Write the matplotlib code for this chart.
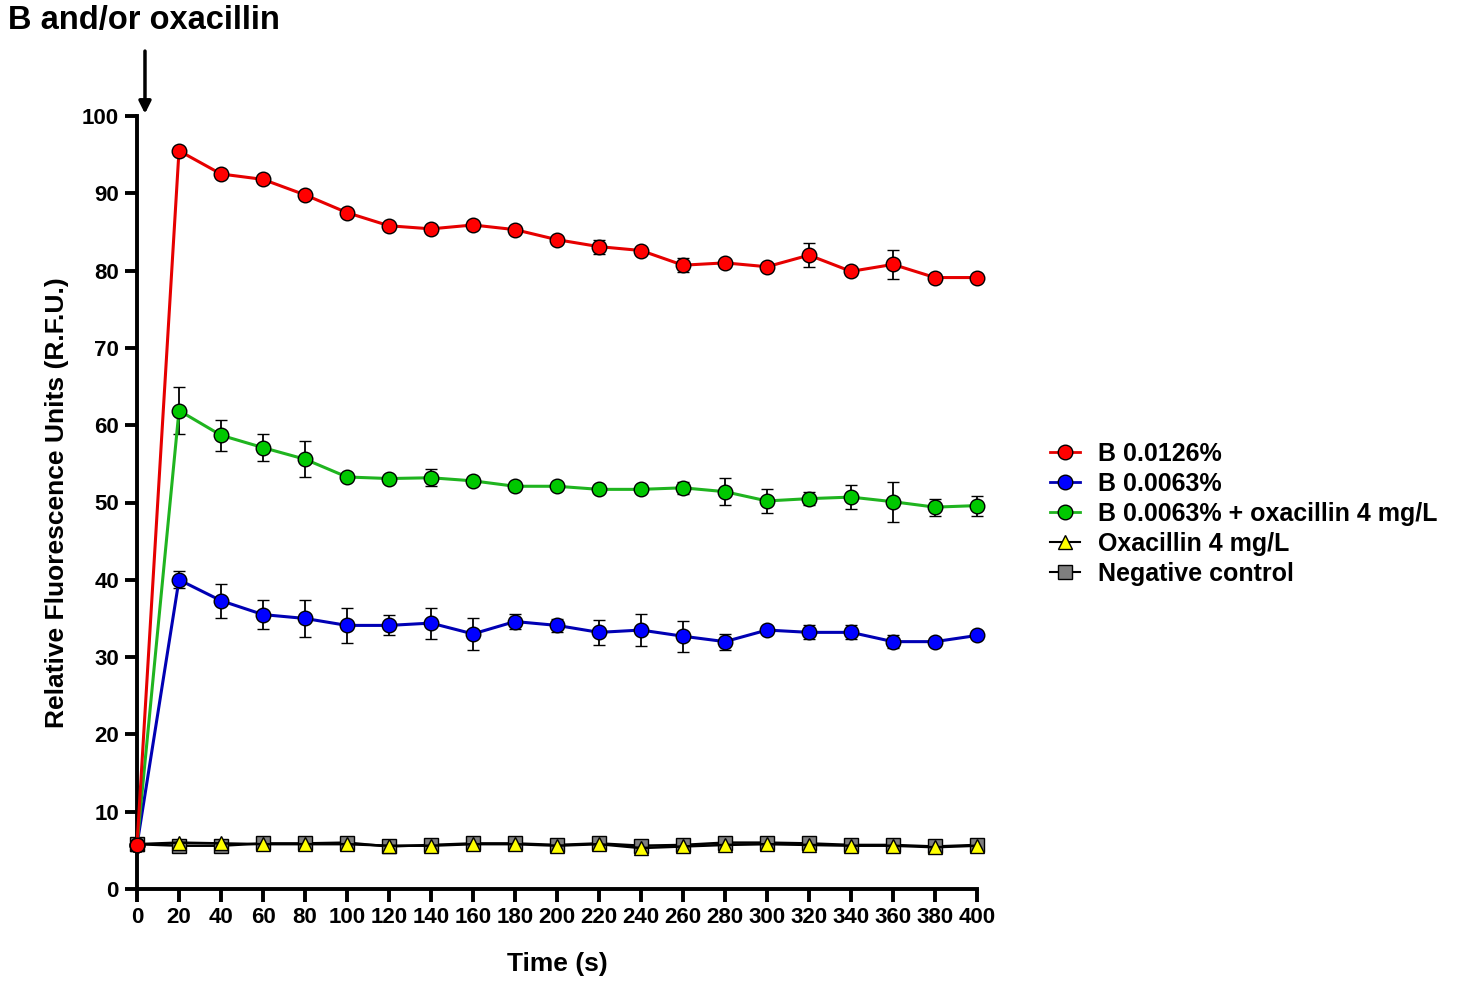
import numpy as np
import matplotlib
matplotlib.use("Agg")
import matplotlib.pyplot as plt
from matplotlib.lines import Line2D

plt.rcParams['font.family'] = ['Liberation Sans', 'DejaVu Sans']
plt.rcParams['font.weight'] = 'bold'

### Data
time = [0, 20, 40, 60, 80, 100, 120, 140, 160, 180, 200,
        220, 240, 260, 280, 300, 320, 340, 360, 380, 400]

b0126 = [5.7, 95.5, 92.5, 91.8, 89.8, 87.5, 85.8, 85.4, 85.9, 85.3, 84.0,
         83.1, 82.6, 80.7, 81.0, 80.5, 82.0, 79.9, 80.8, 79.1, 79.1]
b0126_err = [0, 0.3, 0.3, 0.3, 0.3, 0.3, 0.3, 0.3, 0.3, 0.3, 0.3,
             0.9, 0.3, 0.9, 0.3, 0.3, 1.55, 0.3, 1.9, 0.3, 0.3]

b0063 = [5.7, 40.0, 37.3, 35.5, 35.0, 34.1, 34.1, 34.4, 33.0, 34.6, 34.1,
         33.2, 33.5, 32.7, 32.0, 33.5, 33.2, 33.2, 32.0, 32.0, 32.8]
b0063_err = [0, 1.1, 2.2, 1.9, 2.4, 2.3, 1.3, 2.0, 2.1, 0.95, 0.85,
             1.6, 2.1, 2.0, 1.05, 0.3, 0.9, 0.9, 0.8, 0.3, 0.3]

b0063_oxa = [5.7, 61.9, 58.7, 57.1, 55.6, 53.3, 53.1, 53.2, 52.8, 52.1, 52.1,
             51.7, 51.7, 51.9, 51.4, 50.2, 50.5, 50.7, 50.1, 49.4, 49.6]
b0063_oxa_err = [0, 3.0, 2.0, 1.7, 2.3, 0.3, 0.3, 1.1, 0.3, 0.3, 0.3,
                 0.3, 0.3, 0.8, 1.75, 1.5, 0.8, 1.5, 2.6, 1.1, 1.3]

oxa = [5.8, 6.0, 5.9, 5.8, 5.8, 5.8, 5.6, 5.6, 5.8, 5.8, 5.6,
       5.8, 5.3, 5.5, 5.7, 5.8, 5.7, 5.6, 5.6, 5.4, 5.6]
neg = [5.8, 5.6, 5.6, 5.9, 5.9, 6.0, 5.5, 5.7, 5.9, 5.9, 5.7,
       5.9, 5.6, 5.7, 6.0, 6.0, 5.9, 5.7, 5.7, 5.5, 5.7]

labels = ['B 0.0126%', 'B 0.0063%', 'B 0.0063% + oxacillin 4 mg/L',
          'Oxacillin 4 mg/L', 'Negative control']

fig = plt.figure(figsize=(14.77, 9.81), dpi=100)
ax = fig.add_axes([137/1477, 1-889/981, (977-137)/1477, (889-116)/981])

ms = 10.5
common = dict(capsize=4, ecolor='black', elinewidth=1.3, capthick=1.3,
              markeredgecolor='black', markeredgewidth=1.0, clip_on=False)

# bottom curves first so the coloured ones sit on top
ax.plot(time, neg, color='black', lw=1.8, marker='s', ms=ms-1,
        mfc='#7f7f7f', mec='black', mew=1.0, clip_on=False, zorder=3)
ax.plot(time, oxa, color='black', lw=1.8, marker='^', ms=ms-1,
        mfc='#ffff00', mec='black', mew=1.0, clip_on=False, zorder=4)
ax.errorbar(time, b0063, yerr=b0063_err, color='#0000b4', lw=2.2, marker='o',
            ms=ms, mfc='#0000ff', zorder=5, **common)
ax.errorbar(time, b0063_oxa, yerr=b0063_oxa_err, color='#1fb41f', lw=2.2,
            marker='o', ms=ms, mfc='#00c800', zorder=6, **common)
ax.errorbar(time, b0126, yerr=b0126_err, color='#e60000', lw=2.2, marker='o',
            ms=ms, mfc='#ff0000', zorder=7, **common)

ax.set_xlim(0, 400)
ax.set_ylim(0, 100)
ax.set_xticks(np.arange(0, 401, 20))
ax.set_yticks(np.arange(0, 101, 10))
for s in ['top', 'right']:
    ax.spines[s].set_visible(False)
for s in ['left', 'bottom']:
    ax.spines[s].set_linewidth(2.8)
ax.tick_params(direction='out', length=9, width=2.8, labelsize=16, pad=4)
for lab in ax.get_xticklabels() + ax.get_yticklabels():
    lab.set_fontweight('bold')

ax.set_xlabel('Time (s)', fontsize=19, fontweight='bold', labelpad=17)
ax.set_ylabel('Relative Fluorescence Units (R.F.U.)', fontsize=19,
              fontweight='bold', labelpad=9)

# arrow marking the addition
ax.annotate('', xy=(3.8, 100.3), xytext=(3.8, 108.4),
            arrowprops=dict(arrowstyle='-|>', color='black', lw=2.5,
                            mutation_scale=18, shrinkA=0, shrinkB=0),
            annotation_clip=False)

fig.text(8/1477, 1-20/981, 'B and/or oxacillin', fontsize=23.5,
         fontweight='bold', ha='left', va='center')

handles = [
    Line2D([], [], color='#e60000', lw=2, marker='o', ms=ms, mfc='#ff0000', mec='black'),
    Line2D([], [], color='#0000b4', lw=2, marker='o', ms=ms, mfc='#0000ff', mec='black'),
    Line2D([], [], color='#1fb41f', lw=2, marker='o', ms=ms, mfc='#00c800', mec='black'),
    Line2D([], [], color='black', lw=1.5, marker='^', ms=ms-1, mfc='#ffff00', mec='black'),
    Line2D([], [], color='black', lw=1.5, marker='s', ms=ms-1, mfc='#7f7f7f', mec='black'),
]
fig.legend(handles, labels, loc='center left', bbox_to_anchor=(1027/1477, 1-514/981),
           frameon=False, prop={'size': 18, 'weight': 'bold'},
           handlelength=1.2, handletextpad=0.72, labelspacing=0.24)

fig.savefig('out.png', dpi=100)
